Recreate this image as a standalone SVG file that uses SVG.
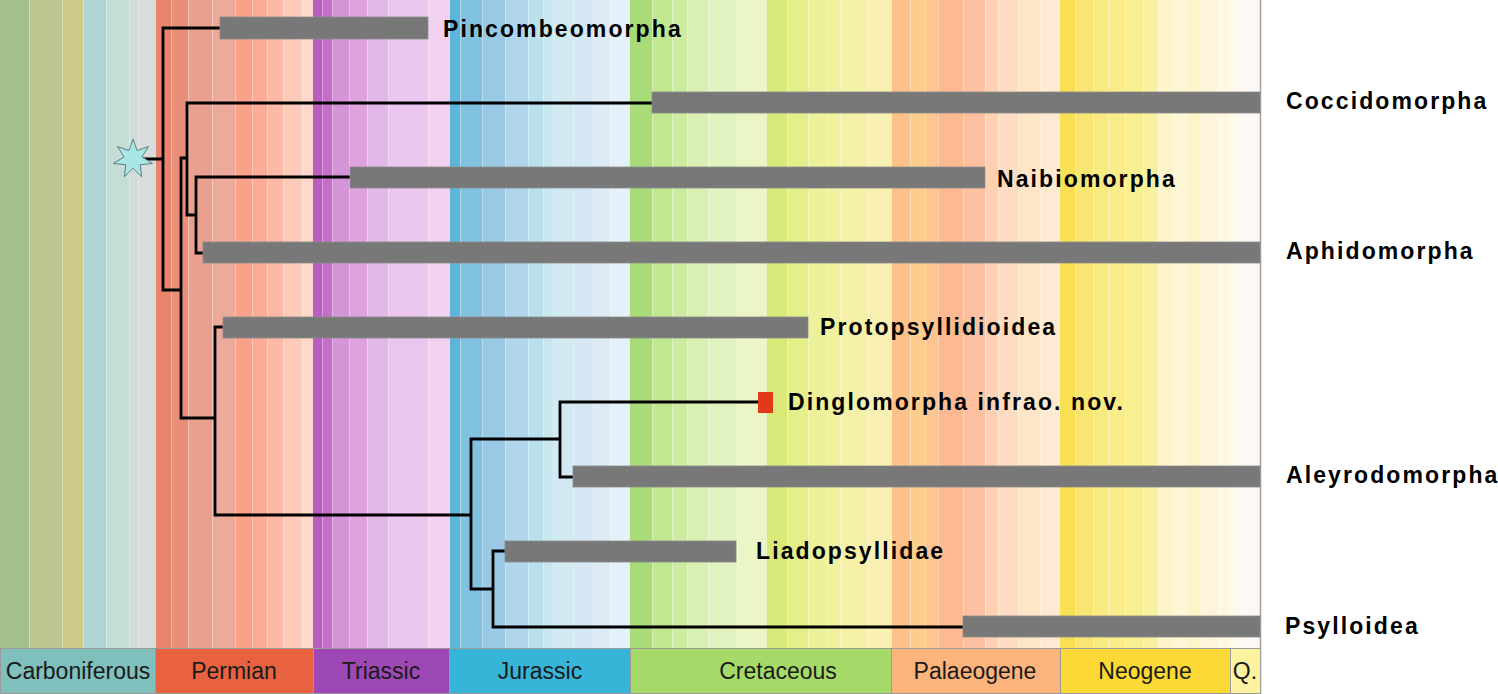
<svg xmlns="http://www.w3.org/2000/svg" width="1498" height="694" viewBox="0 0 1498 694">
<style>
.sep{stroke:#ffffff;stroke-opacity:0.35;stroke-width:1}
.br{stroke:#000;stroke-width:2.8;fill:none;stroke-linecap:square}
.bar{fill:#787878;stroke:#8a8a8a;stroke-width:0.8}
.lab{font-family:"Liberation Sans",Arial,sans-serif;font-weight:bold;font-size:23px;letter-spacing:2.1px;fill:#000}
.leg{font-family:"Liberation Sans",Arial,sans-serif;font-size:23px;fill:#1a1a1a;text-anchor:middle}
.lb{stroke:#9a9a9a;stroke-width:1}
</style>
<rect width="1498" height="694" fill="#fff"/>
<g id="background">
<rect x="0" y="0" width="29" height="648" fill="#a3bf8c"/>
<rect x="29" y="0" width="33" height="648" fill="#bcc690"/>
<rect x="62" y="0" width="21" height="648" fill="#cdca8a"/>
<rect x="83" y="0" width="23" height="648" fill="#aed4d4"/>
<rect x="106" y="0" width="23" height="648" fill="#c5ddd6"/>
<rect x="129" y="0" width="9" height="648" fill="#cfdddd"/>
<rect x="138" y="0" width="18" height="648" fill="#d8dddb"/>
<rect x="156" y="0" width="15" height="648" fill="#e8836d"/>
<rect x="171" y="0" width="17" height="648" fill="#e98f79"/>
<rect x="188" y="0" width="24" height="648" fill="#eaa08e"/>
<rect x="212" y="0" width="23" height="648" fill="#ecaa9a"/>
<rect x="235" y="0" width="17" height="648" fill="#f9a189"/>
<rect x="252" y="0" width="15" height="648" fill="#fcac96"/>
<rect x="267" y="0" width="16" height="648" fill="#fdb9a6"/>
<rect x="283" y="0" width="19" height="648" fill="#fecab9"/>
<rect x="302" y="0" width="11" height="648" fill="#fed8ca"/>
<rect x="313" y="0" width="9" height="648" fill="#ba5ec1"/>
<rect x="322" y="0" width="10" height="648" fill="#c470c9"/>
<rect x="332" y="0" width="17" height="648" fill="#d596d9"/>
<rect x="349" y="0" width="18" height="648" fill="#dea2dd"/>
<rect x="367" y="0" width="21" height="648" fill="#e2b8e9"/>
<rect x="388" y="0" width="40" height="648" fill="#ebc6ef"/>
<rect x="428" y="0" width="22" height="648" fill="#f3d1f0"/>
<rect x="450" y="0" width="10" height="648" fill="#5db5d9"/>
<rect x="460" y="0" width="22" height="648" fill="#82c2e1"/>
<rect x="482" y="0" width="23" height="648" fill="#99c9e5"/>
<rect x="505" y="0" width="23" height="648" fill="#b1d5eb"/>
<rect x="528" y="0" width="15" height="648" fill="#b9e1ed"/>
<rect x="543" y="0" width="10" height="648" fill="#c8e7ef"/>
<rect x="553" y="0" width="20" height="648" fill="#d2e9f1"/>
<rect x="573" y="0" width="20" height="648" fill="#d4e7f3"/>
<rect x="593" y="0" width="17" height="648" fill="#dcebf5"/>
<rect x="610" y="0" width="20" height="648" fill="#e4f1f9"/>
<rect x="630" y="0" width="22" height="648" fill="#a9dc79"/>
<rect x="652" y="0" width="20" height="648" fill="#c1e891"/>
<rect x="672" y="0" width="15" height="648" fill="#cdeca2"/>
<rect x="687" y="0" width="21" height="648" fill="#d8f0b1"/>
<rect x="708" y="0" width="29" height="648" fill="#e1f3c1"/>
<rect x="737" y="0" width="30" height="648" fill="#ebf5c5"/>
<rect x="767" y="0" width="20" height="648" fill="#d9e979"/>
<rect x="787" y="0" width="21" height="648" fill="#e5ef89"/>
<rect x="808" y="0" width="19" height="648" fill="#edf199"/>
<rect x="827" y="0" width="13" height="648" fill="#f1f1a1"/>
<rect x="840" y="0" width="28" height="648" fill="#f5f1a9"/>
<rect x="868" y="0" width="24" height="648" fill="#f9f1b1"/>
<rect x="892" y="0" width="18" height="648" fill="#fdc189"/>
<rect x="910" y="0" width="15" height="648" fill="#fdcd8d"/>
<rect x="925" y="0" width="13" height="648" fill="#fdc591"/>
<rect x="938" y="0" width="25" height="648" fill="#fdb991"/>
<rect x="963" y="0" width="22" height="648" fill="#fdc1a1"/>
<rect x="985" y="0" width="13" height="648" fill="#fdd1b1"/>
<rect x="998" y="0" width="20" height="648" fill="#fedcc1"/>
<rect x="1018" y="0" width="22" height="648" fill="#fee5c5"/>
<rect x="1040" y="0" width="20" height="648" fill="#fee9d1"/>
<rect x="1060" y="0" width="15" height="648" fill="#f8e052"/>
<rect x="1075" y="0" width="18" height="648" fill="#f9e572"/>
<rect x="1093" y="0" width="15" height="648" fill="#f9e981"/>
<rect x="1108" y="0" width="17" height="648" fill="#f9ec89"/>
<rect x="1125" y="0" width="18" height="648" fill="#f8ef91"/>
<rect x="1143" y="0" width="15" height="648" fill="#f7f1a1"/>
<rect x="1158" y="0" width="15" height="648" fill="#fdf5c9"/>
<rect x="1173" y="0" width="14" height="648" fill="#fdf7d5"/>
<rect x="1187" y="0" width="13" height="648" fill="#fef3c9"/>
<rect x="1200" y="0" width="18" height="648" fill="#fef5d9"/>
<rect x="1218" y="0" width="12" height="648" fill="#fef7e1"/>
<rect x="1230" y="0" width="10" height="648" fill="#fef9e9"/>
<rect x="1240" y="0" width="20" height="648" fill="#fdf8f4"/>
<path class="sep" d="M29.5 0V648M62.5 0V648M83.5 0V648M106.5 0V648M129.5 0V648M138.5 0V648M171.5 0V648M188.5 0V648M212.5 0V648M235.5 0V648M252.5 0V648M267.5 0V648M283.5 0V648M302.5 0V648M322.5 0V648M332.5 0V648M349.5 0V648M367.5 0V648M388.5 0V648M428.5 0V648M460.5 0V648M482.5 0V648M505.5 0V648M528.5 0V648M543.5 0V648M553.5 0V648M573.5 0V648M593.5 0V648M610.5 0V648M652.5 0V648M672.5 0V648M687.5 0V648M708.5 0V648M737.5 0V648M787.5 0V648M808.5 0V648M827.5 0V648M840.5 0V648M868.5 0V648M910.5 0V648M925.5 0V648M938.5 0V648M963.5 0V648M985.5 0V648M998.5 0V648M1018.5 0V648M1040.5 0V648M1075.5 0V648M1093.5 0V648M1108.5 0V648M1125.5 0V648M1143.5 0V648M1158.5 0V648M1173.5 0V648M1187.5 0V648M1200.5 0V648M1218.5 0V648M1230.5 0V648M1240.5 0V648"/>
<line x1="1260.5" y1="0" x2="1260.5" y2="694" stroke="#a0a0a0" stroke-width="1.5"/>
</g>
<g id="connectors">
<path class="br" d="M140 159H163M163 28V290M163 28H220M163 290H181M181 158V418M181 158H187M187 103V215M187 103H652M187 215H196M196 177V253M196 177H350M196 253H203M181 418H215M215 327V515M215 327H223M215 515H471M471 439V589M471 439H560M560 402V477M560 402H758M560 477H573M471 589H493M493 551V627M493 551H505M493 627H963"/>
</g>
<g id="root-star">
<polygon points="133,139 137.1,150.6 148.6,146.5 141.9,156.9 152.5,163.4 140.2,164.8 141.7,176.9 133,168.2 124.3,176.9 125.8,164.8 113.5,163.4 124.1,156.9 117.4,146.5 128.9,150.6" fill="#a9e6e6" stroke="#5f7f82" stroke-width="1"/>
</g>
<g id="node-pincombeomorpha">
<rect class="bar" x="220" y="17" width="208" height="22"/>
<text class="lab" x="443" y="37">Pincombeomorpha</text>
</g>
<g id="node-coccidomorpha">
<rect class="bar" x="652" y="92" width="608" height="21"/>
<text class="lab" x="1286" y="109">Coccidomorpha</text>
</g>
<g id="node-naibiomorpha">
<rect class="bar" x="350" y="167" width="635" height="21"/>
<text class="lab" x="997" y="187">Naibiomorpha</text>
</g>
<g id="node-aphidomorpha">
<rect class="bar" x="203" y="242" width="1057" height="21"/>
<text class="lab" x="1286" y="259">Aphidomorpha</text>
</g>
<g id="node-protopsyllidioidea">
<rect class="bar" x="223" y="317" width="585" height="21"/>
<text class="lab" x="820" y="335">Protopsyllidioidea</text>
</g>
<g id="node-dinglomorpha">
<rect x="758" y="392" width="15" height="21" fill="#e03a18"/>
<text class="lab" x="788" y="410">Dinglomorpha infrao. nov.</text>
</g>
<g id="node-aleyrodomorpha">
<rect class="bar" x="573" y="466" width="687" height="21"/>
<text class="lab" x="1286" y="483">Aleyrodomorpha</text>
</g>
<g id="node-liadopsyllidae">
<rect class="bar" x="505" y="541" width="231" height="21"/>
<text class="lab" x="756" y="559">Liadopsyllidae</text>
</g>
<g id="node-psylloidea">
<rect class="bar" x="963" y="616" width="297" height="21"/>
<text class="lab" x="1285" y="634">Psylloidea</text>
</g>
<g id="legend">
<rect class="lb" x="0.5" y="648.5" width="155" height="45" fill="#7fbfbc"/>
<rect class="lb" x="155.5" y="648.5" width="158" height="45" fill="#e8623f"/>
<rect class="lb" x="313.5" y="648.5" width="136" height="45" fill="#9d48b4"/>
<rect class="lb" x="449.5" y="648.5" width="181" height="45" fill="#37b5d9"/>
<rect class="lb" x="630.5" y="648.5" width="261" height="45" fill="#a6da68"/>
<rect class="lb" x="891.5" y="648.5" width="169" height="45" fill="#fcb37c"/>
<rect class="lb" x="1060.5" y="648.5" width="170" height="45" fill="#fcd935"/>
<rect class="lb" x="1230.5" y="648.5" width="30" height="45" fill="#fdf29f"/>
<text class="leg" x="78" y="679">Carboniferous</text>
<text class="leg" x="234" y="679">Permian</text>
<text class="leg" x="381" y="679">Triassic</text>
<text class="leg" x="540" y="679">Jurassic</text>
<text class="leg" x="778" y="679">Cretaceous</text>
<text class="leg" x="975" y="679">Palaeogene</text>
<text class="leg" x="1145" y="679">Neogene</text>
<text class="leg" x="1245" y="679">Q.</text>
</g>
</svg>
